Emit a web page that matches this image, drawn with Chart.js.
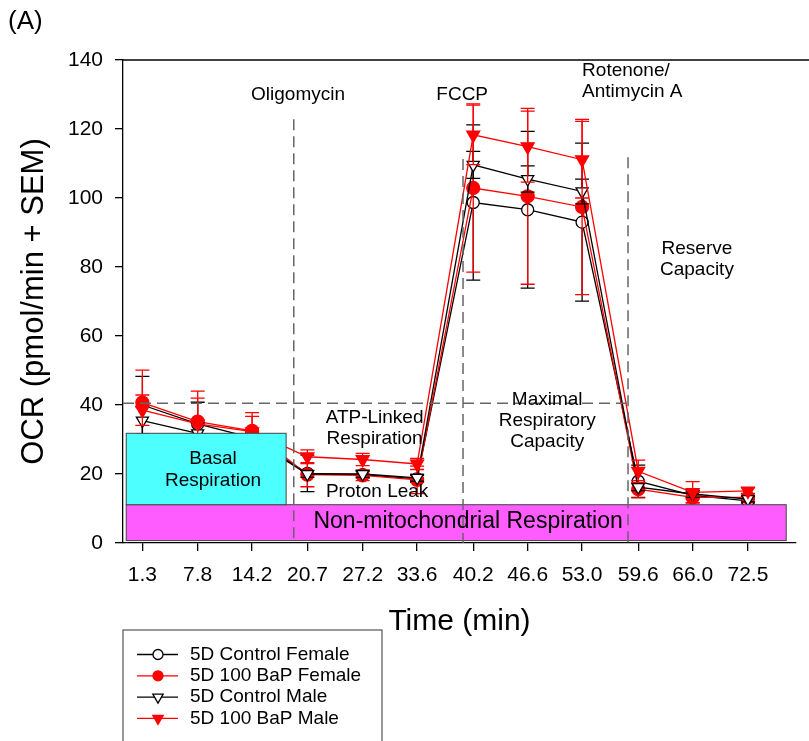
<!DOCTYPE html>
<html lang="en">

<head>
    <meta charset="UTF-8">
    <title>OCR</title>
    <style>
        body { margin: 0; background: #fff; }
    </style>
</head>

<body>
    <canvas id="grafico" width="809" height="741"></canvas>

    <script src="https://cdn.jsdelivr.net/npm/chart.js"></script>
    <script>
        // time points (min) and their printed labels
        const times = [1.3, 7.8, 14.2, 20.7, 27.2, 33.6, 40.2, 46.6, 53.0, 59.6, 66.0, 72.5]
        const timeLabels = ['1.3', '7.8', '14.2', '20.7', '27.2', '33.6', '40.2', '46.6', '53.0', '59.6', '66.0', '72.5']
        const yTicks = [0, 20, 40, 60, 80, 100, 120, 140]

        // OCR means and SEM per group
        const controlFemale = [40.0, 34.5, 30.5, 20.2, 19.8, 18.6, 98.7, 96.6, 93.0, 17.9, 13.8, 12.2]
        const controlFemaleSem = [8.3, 6.3, 1.5, 5.3, 1.0, 1.0, 22.5, 22.7, 22.9, 4.7, 1.0, 0.6]
        const bapFemale = [40.7, 35.2, 32.5, 19.8, 19.6, 18.3, 102.9, 100.5, 97.4, 15.6, 13.2, 13.2]
        const bapFemaleSem = [9.4, 8.8, 5.3, 3.5, 1.5, 4.0, 24.4, 25.5, 25.4, 2.5, 1.5, 1.2]
        const controlMale = [35.5, 31.8, 30.0, 20.0, 20.0, 18.9, 109.6, 105.5, 101.9, 16.2, 14.2, 12.7]
        const controlMaleSem = [4.0, 3.0, 1.5, 1.0, 1.0, 1.0, 3.9, 3.8, 3.6, 1.0, 1.0, 0.8]
        const bapMale = [38.5, 34.5, 32.3, 25.0, 24.2, 22.9, 118.3, 114.9, 111.1, 20.8, 14.7, 15.1]
        const bapMaleSem = [4.4, 7.5, 4.4, 2.0, 1.8, 1.6, 8.6, 10.3, 11.1, 3.2, 3.1, 0.9]

        const fuente = 'Liberation Sans, Arial, sans-serif'
        Chart.defaults.font.family = fuente
        Chart.defaults.color = '#000'

        const puntos = (valores) => valores.map((v, i) => ({ x: times[i], y: v }))

        const series = [
            { label: '5D Control Female', data: puntos(controlFemale), sem: controlFemaleSem, borderColor: '#000', pointBackgroundColor: '#fff', pointStyle: 'circle', pointRadius: 6, pointRotation: 0, order: 4 },
            { label: '5D 100 BaP Female', data: puntos(bapFemale), sem: bapFemaleSem, borderColor: '#ff0000', pointBackgroundColor: '#ff0000', pointStyle: 'circle', pointRadius: 6.5, pointRotation: 0, order: 3 },
            { label: '5D Control Male', data: puntos(controlMale), sem: controlMaleSem, borderColor: '#000', pointBackgroundColor: '#fff', pointStyle: 'triangle', pointRadius: 7, pointRotation: 180, order: 2 },
            { label: '5D 100 BaP Male', data: puntos(bapMale), sem: bapMaleSem, borderColor: '#ff0000', pointBackgroundColor: '#ff0000', pointStyle: 'triangle', pointRadius: 7.5, pointRotation: 180, order: 1 },
        ]
        series.forEach(s => {
            s.pointBorderColor = s.borderColor
            s.borderWidth = 1.3
            s.pointBorderWidth = 1.3
            s.tension = 0
        })

        // annotation texts, placed in data units [x, y, text, size, align]
        const notas = [
            [19.6, 129.8, 'Oligomycin', 19, 'center'],
            [38.9, 129.8, 'FCCP', 19, 'center'],
            [53.0, 136.8, 'Rotenone/', 19, 'left'],
            [53.0, 130.7, 'Antimycin A', 19, 'left'],
            [66.5, 85.2, 'Reserve', 19, 'center'],
            [66.5, 79.1, 'Capacity', 19, 'center'],
            [48.9, 41.4, 'Maximal', 19, 'center'],
            [48.9, 35.4, 'Respiratory', 19, 'center'],
            [48.9, 29.3, 'Capacity', 19, 'center'],
            [28.6, 36.3, 'ATP-Linked', 19, 'center'],
            [28.6, 30.2, 'Respiration', 19, 'center'],
            [28.9, 14.8, 'Proton Leak', 19, 'center'],
            [9.6, 24.3, 'Basal', 19, 'center'],
            [9.6, 18.0, 'Respiration', 19, 'center'],
            [39.6, 6.1, 'Non-mitochondrial Respiration', 23, 'center'],
        ]

        const extras = {
            id: 'extras',
            beforeDatasetDraw(chart, args) {
                // error bars under each series
                const ds = chart.data.datasets[args.index]
                const { ctx, scales: { x, y } } = chart
                ctx.save()
                ctx.strokeStyle = ds.borderColor
                ctx.lineWidth = 1.3
                ds.data.forEach((p, i) => {
                    const px = x.getPixelForValue(p.x)
                    const arriba = y.getPixelForValue(p.y + ds.sem[i])
                    const abajo = y.getPixelForValue(p.y - ds.sem[i])
                    ctx.beginPath()
                    ctx.moveTo(px, arriba); ctx.lineTo(px, abajo)
                    ctx.moveTo(px - 7, arriba); ctx.lineTo(px + 7, arriba)
                    ctx.moveTo(px - 7, abajo); ctx.lineTo(px + 7, abajo)
                    ctx.stroke()
                })
                ctx.restore()
            },
            afterDatasetsDraw(chart) {
                const { ctx, chartArea, scales: { x, y } } = chart
                const X = v => x.getPixelForValue(v)
                const Y = v => y.getPixelForValue(v)
                ctx.save()

                // shaded regions
                ctx.lineWidth = 1
                ctx.strokeStyle = '#444'
                ctx.fillStyle = '#ff5cff'
                ctx.fillRect(X(-0.6), Y(11.1), X(77.0) - X(-0.6), Y(0.7) - Y(11.1))
                ctx.strokeRect(X(-0.6), Y(11.1), X(77.0) - X(-0.6), Y(0.7) - Y(11.1))
                ctx.fillStyle = '#4dffff'
                ctx.fillRect(X(-0.6), Y(31.8), X(18.2) - X(-0.6), Y(11.1) - Y(31.8))
                ctx.strokeRect(X(-0.6), Y(31.8), X(18.2) - X(-0.6), Y(11.1) - Y(31.8))

                // dashed guides
                ctx.strokeStyle = '#666'
                ctx.lineWidth = 1.5
                ctx.setLineDash([11, 6])
                ctx.beginPath()
                ctx.moveTo(X(19.1), Y(122.8)); ctx.lineTo(X(19.1), Y(0))
                ctx.moveTo(X(39.0), Y(111.3)); ctx.lineTo(X(39.0), Y(0))
                ctx.moveTo(X(58.4), Y(111.8)); ctx.lineTo(X(58.4), Y(0))
                ctx.moveTo(chartArea.left, Y(40.5)); ctx.lineTo(X(58.4), Y(40.5))
                ctx.stroke()
                ctx.setLineDash([])

                // top frame line
                ctx.strokeStyle = '#000'
                ctx.lineWidth = 1.3
                ctx.beginPath()
                ctx.moveTo(chartArea.left, chartArea.top); ctx.lineTo(chart.width, chartArea.top)
                ctx.stroke()

                // annotation text
                ctx.fillStyle = '#000'
                ctx.textBaseline = 'middle'
                notas.forEach(([nx, ny, texto, tam, alin]) => {
                    ctx.font = tam + 'px ' + fuente
                    ctx.textAlign = alin
                    ctx.fillText(texto, X(nx), Y(ny))
                })

                ctx.font = '26px ' + fuente
                ctx.textAlign = 'left'
                ctx.fillText('(A)', 8, 22)

                // legend box
                ctx.strokeStyle = '#333'
                ctx.lineWidth = 1
                ctx.strokeRect(123, 630, 259, 130)
                ctx.font = '19px ' + fuente
                chart.data.datasets.forEach((ds, i) => {
                    const fy = 654.5 + i * 21.3
                    ctx.strokeStyle = ds.borderColor
                    ctx.lineWidth = 1.3
                    ctx.beginPath()
                    ctx.moveTo(137, fy); ctx.lineTo(178, fy)
                    ctx.stroke()
                    ctx.fillStyle = ds.pointBackgroundColor
                    Chart.helpers.drawPoint(ctx, {
                        pointStyle: ds.pointStyle,
                        radius: ds.pointStyle === 'circle' ? 5 : 6,
                        rotation: ds.pointRotation,
                        borderWidth: 1.3
                    }, 158, fy)
                    ctx.fillStyle = '#000'
                    ctx.textAlign = 'left'
                    ctx.fillText(ds.label, 190, fy)
                })
                ctx.restore()
            }
        }

        new Chart(document.querySelector('#grafico'), {
            type: 'line',
            data: { datasets: series },
            options: {
                responsive: false,
                animation: false,
                events: [],
                layout: { padding: { top: 60, right: 13, bottom: 100, left: 0 } },
                plugins: { legend: { display: false }, tooltip: { enabled: false } },
                scales: {
                    x: {
                        type: 'linear',
                        min: -0.98,
                        max: 78.15,
                        afterBuildTicks: (s) => { s.ticks = times.map(v => ({ value: v })) },
                        afterFit: (s) => { s.height = 98 },
                        ticks: {
                            autoSkip: false,
                            maxRotation: 0,
                            padding: 12,
                            font: { size: 21 },
                            callback: (v) => timeLabels[times.indexOf(v)]
                        },
                        grid: { drawOnChartArea: false, tickLength: 8, color: '#000', lineWidth: 1.3 },
                        border: { color: '#000', width: 1.3 },
                        title: { display: true, text: 'Time (min)', font: { size: 30 }, padding: { top: 0, bottom: 1 } }
                    },
                    y: {
                        min: 0,
                        max: 140,
                        afterBuildTicks: (s) => { s.ticks = yTicks.map(v => ({ value: v })) },
                        afterFit: (s) => { s.width = 123 },
                        ticks: { padding: 12, font: { size: 21 } },
                        grid: { drawOnChartArea: false, tickLength: 8, color: '#000', lineWidth: 1.3 },
                        border: { color: '#000', width: 1.3 },
                        title: { display: true, text: 'OCR (pmol/min + SEM)', font: { size: 31 }, padding: { top: 16, bottom: 0 } }
                    }
                }
            },
            plugins: [extras]
        })
    </script>
</body>

</html>
